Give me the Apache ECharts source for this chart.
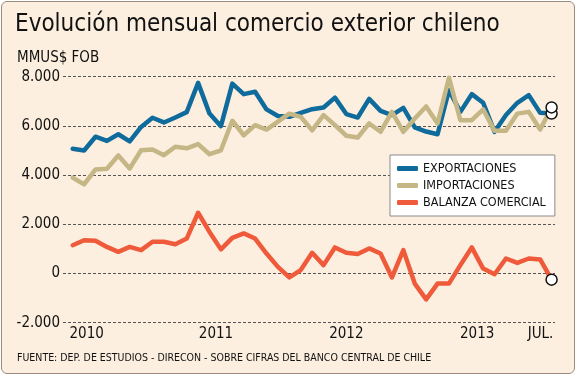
<!DOCTYPE html>
<html>
<head>
<meta charset="utf-8">
<script src="https://cdn.jsdelivr.net/npm/echarts@6/dist/echarts.min.js"></script>
<style>
  html, body { margin: 0; padding: 0; background: #fff; }
  #frame {
    position: absolute; left: 1px; top: 1px; width: 572px; height: 371px;
    border: 1px solid #9c8b7e; border-radius: 6px; background: #fcefdf;
  }
  #chart { width: 576px; height: 375px; position: absolute; left: 0; top: 0; }
</style>
</head>
<body>
<div id="frame"></div>
<div id="chart"></div>
<script>
// ene-2010 .. jul-2013, MMUS$ FOB
const exportaciones = [5070, 5000, 5560, 5390, 5660, 5370, 5960, 6330, 6140, 6340, 6560, 7750,
  6500, 5990, 7720, 7290, 7390, 6670, 6400, 6370, 6530, 6680, 6750, 7150,
  6480, 6340, 7100, 6610, 6440, 6730, 5940, 5770, 5660, 7450, 6570, 7290,
  6940, 5760, 6440, 6940, 7250, 6530, 6500]
const importaciones = [3900, 3620, 4230, 4260, 4800, 4270, 5010, 5040, 4810, 5150, 5090, 5260,
  4850, 5010, 6210, 5620, 6030, 5850, 6170, 6500, 6370, 5820, 6440, 6030,
  5600, 5530, 6100, 5760, 6570, 5760, 6300, 6790, 6100, 7960, 6230, 6230,
  6670, 5800, 5800, 6500, 6570, 5850, 6750]
const balanza = [1150, 1350, 1330, 1080, 880, 1080, 950, 1290, 1290, 1190, 1420, 2470,
  1690, 980, 1450, 1630, 1420, 810, 270, -160, 140, 840, 340, 1060,
  840, 790, 1020, 810, -160, 950, -410, -1050, -410, -410, 340, 1060,
  200, -30, 610, 430, 610, 570, -250]
const yearTicks = [0, 12, 24, 36, 42]
const yearLabels = ['2010', '2011', '2012', '2013', 'JUL.']

const narrow = '"DejaVu Sans Condensed", sans-serif'

function toSeries (values) {
  return values.map((v, i) => {
    if (i === values.length - 1) {
      return {
        value: [i, v],
        symbol: 'circle',
        symbolSize: 11,
        itemStyle: { color: '#fff', borderColor: '#111', borderWidth: 1.5 }
      }
    }
    return [i, v]
  })
}

const myChart = echarts.init(document.getElementById('chart'))
const lineSeries = (name, values, color) => ({
  name: name,
  type: 'line',
  data: toSeries(values),
  symbol: 'none',
  showSymbol: true,
  lineStyle: { color: color, width: 4.5, join: 'round', cap: 'round' },
  itemStyle: { color: color },
  animation: false,
  z: 3
})

const xLabel = { fontSize: 15, fontFamily: narrow, color: '#111' }

const option = {
  backgroundColor: 'transparent',
  textStyle: { fontFamily: narrow },
  title: [
    {
      text: 'Evolución mensual comercio exterior chileno',
      left: 10, top: 8,
      textStyle: { fontFamily: narrow, fontSize: 24, fontWeight: 'normal', color: '#111' }
    },
    {
      text: 'MMUS$ FOB',
      left: 12, top: 46,
      textStyle: { fontFamily: narrow, fontSize: 15, fontWeight: 'normal', color: '#111' }
    },
    {
      text: 'FUENTE: DEP. DE ESTUDIOS - DIRECON - SOBRE CIFRAS DEL BANCO CENTRAL DE CHILE',
      left: 12, top: 348,
      textStyle: { fontFamily: narrow, fontSize: 10.5, fontWeight: 'normal', color: '#111' }
    }
  ],
  legend: {
    orient: 'vertical',
    left: 390, top: 155,
    padding: [7, 9, 7, 7],
    itemGap: 4,
    itemWidth: 21, itemHeight: 5,
    itemGap: 4,
    icon: 'roundRect',
    backgroundColor: '#fff',
    borderColor: '#8a8a8a',
    borderWidth: 1,
    textStyle: { fontFamily: narrow, fontSize: 12.5, color: '#111' },
    data: ['EXPORTACIONES', 'IMPORTACIONES', 'BALANZA COMERCIAL']
  },
  grid: { left: 63, right: 21, top: 76.7, bottom: 52.3, containLabel: false },
  xAxis: {
    type: 'value',
    min: -0.85,
    max: 42.3,
    axisLine: { show: false },
    axisTick: { show: false },
    splitLine: { show: false },
    axisLabel: {
      customValues: yearTicks,
      margin: 4,
      ...xLabel,
      formatter: v => {
        const k = yearTicks.indexOf(v)
        return '{y' + k + '|' + yearLabels[k] + '}'
      },
      rich: {
        y0: { ...xLabel, padding: [0, 0, 0, 28] },
        y1: { ...xLabel, padding: [0, 0, 0, 13] },
        y2: { ...xLabel },
        y3: { ...xLabel, padding: [0, 12, 0, 0] },
        y4: { ...xLabel, padding: [0, 22, 0, 0] }
      }
    }
  },
  yAxis: {
    type: 'value',
    min: -2000,
    max: 8000,
    interval: 2000,
    axisLine: { show: false },
    axisTick: { show: false },
    axisLabel: {
      margin: 3,
      color: '#111',
      fontSize: 15,
      fontFamily: narrow,
      formatter: v => String(v).replace(/^(-?\d)(\d{3})$/, '$1.$2')
    },
    splitLine: { lineStyle: { color: '#555', type: [3, 2], width: 1 } }
  },
  series: [
    lineSeries('EXPORTACIONES', exportaciones, '#0f6b9b'),
    lineSeries('IMPORTACIONES', importaciones, '#c5b686'),
    lineSeries('BALANZA COMERCIAL', balanza, '#ef5a3b')
  ]
}
myChart.setOption(option)
</script>
</body>
</html>
